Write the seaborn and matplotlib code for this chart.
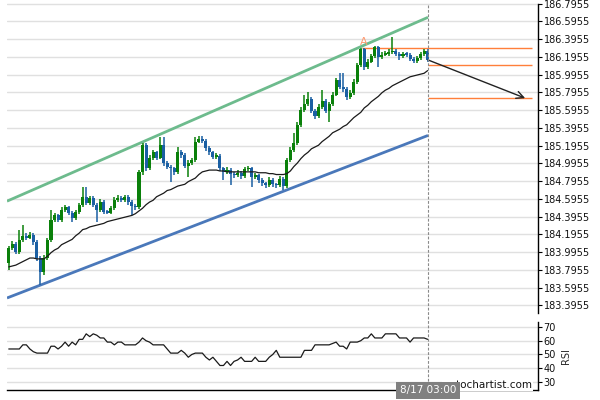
import numpy as np
import pandas as pd
import matplotlib
matplotlib.use("Agg")
import matplotlib.pyplot as plt
from matplotlib.lines import Line2D
from matplotlib.transforms import blended_transform_factory
import seaborn as sns

# ---------------- data ----------------
first_open = 183.87
closes = [
    184.04, 184.09, 184.00, 184.13, 184.18, 184.16, 184.19, 184.11, 183.93, 183.77,
    183.93, 184.13, 184.36, 184.41, 184.36, 184.47, 184.50, 184.44, 184.38, 184.45,
    184.53, 184.62, 184.55, 184.61, 184.53, 184.47, 184.56, 184.45, 184.44, 184.49,
    184.58, 184.61, 184.58, 184.62, 184.56, 184.52, 184.50, 184.90, 185.20, 184.94,
    185.06, 185.12, 185.06, 185.20, 185.00, 184.96, 184.94, 184.90, 185.12, 185.09,
    184.97, 185.00, 185.03, 185.24, 185.27, 185.25, 185.17, 185.12, 185.07, 185.08,
    184.94, 184.90, 184.92, 184.88, 184.86, 184.89, 184.85, 184.93, 184.94, 184.84,
    184.86, 184.81, 184.77, 184.75, 184.81, 184.76, 184.75, 184.82, 184.74, 185.03,
    185.15, 185.22, 185.43, 185.60, 185.66, 185.72, 185.59, 185.53, 185.63, 185.70,
    185.59, 185.66, 185.77, 185.93, 185.86, 185.83, 185.74, 185.79, 185.91, 186.10,
    186.28, 186.08, 186.14, 186.20, 186.31, 186.19, 186.22, 186.23, 186.25, 186.26,
    186.23, 186.20, 186.23, 186.22, 186.17, 186.15, 186.18, 186.23, 186.26, 186.16]
highs = [
    184.06, 184.12, 184.11, 184.25, 184.30, 184.21, 184.22, 184.21, 184.13, 183.95,
    183.96, 184.16, 184.47, 184.44, 184.43, 184.50, 184.53, 184.52, 184.46, 184.47,
    184.55, 184.73, 184.73, 184.63, 184.63, 184.55, 184.59, 184.58, 184.47, 184.52,
    184.62, 184.64, 184.63, 184.64, 184.64, 184.58, 184.54, 184.92, 185.23, 185.22,
    185.09, 185.15, 185.14, 185.29, 185.29, 185.02, 184.98, 184.96, 185.18, 185.15,
    185.11, 185.03, 185.06, 185.29, 185.30, 185.30, 185.27, 185.19, 185.14, 185.11,
    185.10, 184.96, 184.95, 184.94, 184.90, 184.92, 184.91, 184.96, 184.97, 184.96,
    184.89, 184.88, 184.83, 184.79, 184.84, 184.83, 184.78, 184.85, 184.84, 185.06,
    185.18, 185.34, 185.46, 185.63, 185.77, 185.80, 185.74, 185.61, 185.66, 185.82,
    185.72, 185.69, 185.80, 185.96, 186.01, 186.01, 185.85, 185.82, 185.94, 186.13,
    186.30, 186.30, 186.17, 186.23, 186.32, 186.32, 186.25, 186.26, 186.28, 186.42,
    186.28, 186.25, 186.25, 186.25, 186.24, 186.19, 186.20, 186.25, 186.28, 186.28]
lows = [
    183.80, 184.02, 183.98, 183.98, 184.11, 184.13, 184.14, 184.08, 183.90, 183.63,
    183.74, 183.91, 184.11, 184.33, 184.33, 184.34, 184.45, 184.41, 184.34, 184.36,
    184.43, 184.51, 184.53, 184.53, 184.50, 184.34, 184.45, 184.42, 184.42, 184.42,
    184.47, 184.56, 184.56, 184.56, 184.53, 184.41, 184.47, 184.48, 184.87, 184.91,
    184.92, 185.03, 185.03, 185.04, 184.97, 184.93, 184.79, 184.87, 184.88, 185.06,
    184.94, 184.84, 184.98, 185.01, 185.22, 185.22, 185.14, 185.09, 185.04, 185.05,
    184.91, 184.81, 184.88, 184.75, 184.83, 184.84, 184.82, 184.83, 184.91, 184.73,
    184.82, 184.78, 184.74, 184.72, 184.73, 184.73, 184.72, 184.73, 184.70, 184.72,
    185.01, 185.12, 185.20, 185.41, 185.57, 185.64, 185.56, 185.50, 185.51, 185.61,
    185.56, 185.46, 185.64, 185.75, 185.83, 185.80, 185.71, 185.72, 185.77, 185.89,
    186.08, 186.05, 186.06, 186.12, 186.18, 186.08, 186.17, 186.20, 186.21, 186.23,
    186.21, 186.16, 186.18, 186.19, 186.15, 186.12, 186.13, 186.16, 186.21, 186.14]
moving_avg = [
    183.83, 183.84, 183.85, 183.87, 183.89, 183.91, 183.93, 183.93, 183.92, 183.92,
    183.92, 183.95, 183.99, 184.02, 184.04, 184.08, 184.10, 184.12, 184.14, 184.18,
    184.21, 184.25, 184.26, 184.28, 184.29, 184.30, 184.31, 184.32, 184.34, 184.35,
    184.36, 184.37, 184.38, 184.39, 184.40, 184.41, 184.43, 184.46, 184.49, 184.53,
    184.56, 184.58, 184.62, 184.64, 184.66, 184.69, 184.70, 184.72, 184.74, 184.75,
    184.76, 184.79, 184.81, 184.83, 184.87, 184.90, 184.91, 184.92, 184.92, 184.92,
    184.91, 184.91, 184.90, 184.90, 184.90, 184.90, 184.90, 184.90, 184.90, 184.90,
    184.90, 184.89, 184.89, 184.89, 184.88, 184.88, 184.87, 184.87, 184.87, 184.88,
    184.91, 184.96, 185.00, 185.05, 185.09, 185.12, 185.16, 185.18, 185.20, 185.24,
    185.27, 185.30, 185.34, 185.36, 185.38, 185.41, 185.43, 185.47, 185.51, 185.54,
    185.57, 185.62, 185.65, 185.69, 185.72, 185.75, 185.79, 185.82, 185.84, 185.87,
    185.89, 185.91, 185.93, 185.95, 185.97, 185.98, 185.99, 186.00, 186.01, 186.04]
rsi = [
    54, 54, 54, 54, 57, 57, 54, 52, 51, 51,
    51, 51, 56, 56, 54, 56, 59, 56, 59, 57,
    61, 61, 65, 63, 65, 64, 62, 62, 59, 59,
    57, 59, 59, 57, 57, 57, 57, 59, 62, 60,
    59, 57, 57, 57, 57, 54, 51, 51, 51, 53,
    51, 48, 50, 51, 51, 51, 48, 46, 48, 45,
    42, 42, 45, 42, 45, 46, 48, 45, 45, 45,
    48, 45, 45, 45, 48, 50, 53, 48, 48, 48,
    48, 48, 48, 48, 53, 53, 53, 57, 57, 57,
    57, 57, 58, 59, 56, 56, 54, 59, 59, 59,
    60, 62, 62, 65, 62, 62, 62, 65, 65, 65,
    65, 62, 62, 62, 59, 62, 62, 62, 62, 61]

channel_upper = [184.57, 186.64]
channel_lower = [183.48, 185.31]
level_a = 186.30
target_levels = [186.10, 185.73]
arrow_prices = [186.16, 185.73]
price_ticks = [183.3955, 183.5955, 183.7955, 183.9955, 184.1955, 184.3955,
               184.5955, 184.7955, 184.9955, 185.1955, 185.3955, 185.5955,
               185.7955, 185.9955, 186.1955, 186.3955, 186.5955, 186.7955]
rsi_ticks = [30, 40, 50, 60, 70]
date_label = "8/17 03:00"
watermark = "autochartist.com"

# ---------------- style ----------------
sns.set_style("white")
plt.rcParams["font.family"] = ["DejaVu Sans"]

n = len(closes)
idx = np.arange(n)
opens = [first_open] + closes[:-1]
df = pd.DataFrame({"i": idx, "open": opens, "close": closes, "high": highs,
                   "low": lows, "ma": moving_avg, "rsi": rsi})

GREEN = "#0a800a"
BLUE = "#1a5fa3"
ORANGE = "#ff7f3a"
GRID = "#e0e0e0"

fig = plt.figure(figsize=(6, 4), dpi=100)
W, H = 600.0, 400.0
ax = fig.add_axes([7 / W, 1 - 313 / H, 531 / W, (313 - 3.5) / H])
rax = fig.add_axes([7 / W, 1 - 390 / H, 531 / W, (390 - 322) / H])

XMIN, XMAX = -0.5, 150.35
LAST = 119.1
FC_END = 148.6

# ---- main price panel ----
up = df["close"] >= df["open"]
colors = np.where(up, GREEN, BLUE)
body_lo = np.minimum(df["open"], df["close"])
body_h = np.maximum(np.abs(df["close"] - df["open"]), 0.015)
ax.vlines(df["i"], df["low"], df["high"], colors=colors, lw=1.1, zorder=3)
ax.bar(df["i"], body_h, bottom=body_lo, width=0.86, color=colors,
       linewidth=0, zorder=4)

sns.lineplot(data=df, x="i", y="ma", ax=ax, color="#1a1a1a", lw=0.9,
             zorder=5, legend=False)

ax.plot([XMIN, LAST], channel_upper, color="#6dbb8d", lw=2.0,
        solid_capstyle="butt", zorder=2)
ax.plot([XMIN, LAST], channel_lower, color="#4a78ba", lw=2.0,
        solid_capstyle="butt", zorder=2)

ax.hlines(level_a, 100.4, FC_END, color=ORANGE, lw=1.0, zorder=2)
ax.hlines(target_levels, LAST, FC_END, color=ORANGE, lw=1.0, zorder=2)
ax.text(100.7, level_a + 0.005, "A", color="#ff9a70", fontsize=8,
        ha="center", va="bottom", zorder=6)
ax.annotate("", xy=(146.7, arrow_prices[1]), xytext=(LAST, arrow_prices[0]),
            arrowprops=dict(arrowstyle="->", color="#222222", lw=1.0,
                            mutation_scale=13, shrinkA=0, shrinkB=0),
            zorder=6)

ax.set_xlim(XMIN, XMAX)
ax.set_ylim(183.311, 186.7955)
ax.set_yticks(price_ticks)
ax.set_yticklabels([f"{t:.4f}" for t in price_ticks])
ax.yaxis.tick_right()
ax.set_xticks([])
ax.set_xlabel("")
ax.set_ylabel("")
ax.grid(axis="y", color=GRID, lw=1.0)
ax.grid(axis="x", visible=False)
ax.set_axisbelow(True)
for s in ["left", "top", "bottom"]:
    ax.spines[s].set_visible(False)
ax.spines["right"].set_color("black")
ax.spines["right"].set_linewidth(1.0)
ax.tick_params(axis="y", right=True, left=False, length=3, width=0.8,
               color="black", labelsize=7, pad=1, labelcolor="#111111")

# ---- RSI panel ----
sns.lineplot(data=df, x="i", y="rsi", ax=rax, color="#1a1a1a", lw=0.9,
             legend=False)
rax.set_xlim(XMIN, XMAX)
rax.set_ylim(24.2, 73.6)
rax.set_yticks(rsi_ticks)
rax.yaxis.tick_right()
rax.yaxis.set_label_position("right")
rax.set_ylabel("RSI", fontsize=7, rotation=90, labelpad=4)
rax.set_xticks([])
rax.set_xlabel("")
rax.grid(axis="y", color=GRID, lw=1.0)
rax.grid(axis="x", visible=False)
rax.set_axisbelow(True)
for s in ["left", "top"]:
    rax.spines[s].set_visible(False)
for s in ["right", "bottom"]:
    rax.spines[s].set_color("black")
    rax.spines[s].set_linewidth(1.0)
rax.tick_params(axis="y", right=True, left=False, length=3, width=0.8,
                color="black", labelsize=7, pad=1, labelcolor="#111111")

# ---- dashed "now" line, date and watermark ----
tr = blended_transform_factory(ax.transData, fig.transFigure)
fig.add_artist(Line2D([LAST, LAST], [1 - 5 / H, 1 - 383 / H], transform=tr,
                      color="#8a8a8a", lw=0.8, ls=(0, (2.5, 1.5)), zorder=1))
fig.text(532 / W, 1 - 388 / H, watermark, fontsize=7.5, color="#111111",
         ha="right", va="baseline", zorder=5,
         bbox=dict(facecolor="white", edgecolor="none", pad=1.0))
fig.text(LAST, 1 - 390.5 / H, date_label, transform=tr, fontsize=7.5,
         color="white", ha="center", va="center", zorder=10,
         bbox=dict(boxstyle="square,pad=0.35", facecolor="#808080",
                   edgecolor="none"))

fig.savefig("out.png", dpi=100)
